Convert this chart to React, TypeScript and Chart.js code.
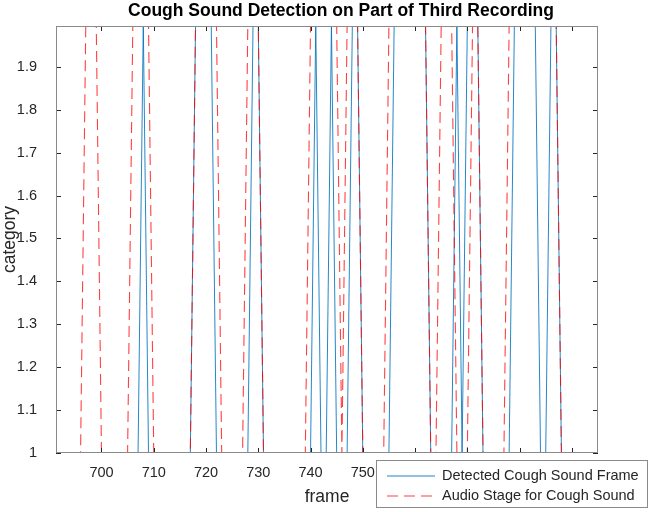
import { useEffect, useRef } from "react";
import { Chart, registerables } from "chart.js";

Chart.register(...registerables);

const titleText = "Cough Sound Detection on Part of Third Recording";
const xLabel = "frame";
const yLabel = "category";
const seriesNames = ["Detected Cough Sound Frame", "Audio Stage for Cough Sound"];
const seriesColors = ["rgba(0,114,189,0.85)", "rgba(255,0,0,0.75)"];

const xTickValues = [700, 710, 720, 730, 740, 750, 760, 770, 780, 790];
const yTickValues = [1, 1.1, 1.2, 1.3, 1.4, 1.5, 1.6, 1.7, 1.8, 1.9];
const xRange = [691.3, 795];
const yRange = [1, 1.995];

// vertices of the detected-frame line (frame, category)
const detectedFrames = [
  691, 707, 708, 709, 717, 718, 721, 722, 728, 729, 730, 731, 740, 741, 742, 743,
  744, 745, 747, 748, 749, 750, 755, 756, 762, 763, 767, 768, 769, 770, 772, 773,
  778, 779, 783, 784, 785, 786, 787, 788, 795,
];
const detectedValues = [
  1, 1, 2, 1, 1, 2, 2, 1, 1, 2, 2, 1, 1, 2, 1, 1,
  2, 1, 1, 2, 2, 1, 1, 2, 2, 1, 1, 2, 1, 2, 2, 1,
  1, 2, 2, 1, 1, 2, 2, 1, 1,
];

// vertices of the audio-stage line (frame, category)
const audioFrames = [
  691, 696, 697, 699, 700, 705, 706, 709, 710, 717, 718, 722, 723, 727, 728, 730,
  731, 739, 740, 745, 746, 747, 749, 750, 754, 755, 762, 763, 764, 765, 767, 768,
  770, 771, 772, 773, 777, 778, 787, 788, 795,
];
const audioValues = [
  1, 1, 2, 2, 1, 1, 2, 2, 1, 1, 2, 2, 1, 1, 2, 2,
  1, 1, 2, 2, 1, 2, 2, 1, 1, 2, 2, 1, 1, 2, 2, 1,
  1, 2, 2, 1, 1, 2, 2, 1, 1,
];

const FONT = '"Liberation Sans", Arial, Helvetica, sans-serif';

const toPoints = (xs: number[], ys: number[]) => xs.map((x, i) => ({ x, y: ys[i] }));

const matlabPlugin = {
  id: "matlabDecor",
  afterDraw(chart: any) {
    const { ctx, chartArea: a, scales } = chart;
    const x = scales.x;
    const y = scales.y;
    ctx.save();
    // tick marks (inward, all four sides)
    ctx.strokeStyle = "#262626";
    ctx.lineWidth = 1;
    ctx.beginPath();
    for (const v of xTickValues) {
      const px = Math.round(x.getPixelForValue(v)) + 0.5;
      ctx.moveTo(px, a.bottom);
      ctx.lineTo(px, a.bottom - 5);
      ctx.moveTo(px, a.top);
      ctx.lineTo(px, a.top + 5);
    }
    for (const v of yTickValues) {
      const py = Math.round(y.getPixelForValue(v)) + 0.5;
      ctx.moveTo(a.left, py);
      ctx.lineTo(a.left + 5, py);
      ctx.moveTo(a.right, py);
      ctx.lineTo(a.right - 5, py);
    }
    ctx.stroke();
    // axes box
    ctx.strokeStyle = "#8a8a8a";
    ctx.strokeRect(Math.round(a.left) + 0.5, Math.round(a.top) + 0.5, Math.round(a.width) - 1, Math.round(a.height) - 1);

    // title
    ctx.fillStyle = "#000000";
    ctx.font = `bold 17.5px ${FONT}`;
    ctx.textAlign = "center";
    ctx.textBaseline = "middle";
    ctx.fillText(titleText, 341, 11);

    // legend
    const lx = 376.5, ly = 460.5, lw = 271, lh = 47;
    ctx.fillStyle = "#ffffff";
    ctx.fillRect(lx, ly, lw, lh);
    ctx.strokeStyle = "#8a8a8a";
    ctx.lineWidth = 1;
    ctx.strokeRect(lx, ly, lw, lh);
    const rows = [476, 496];
    ctx.font = `14.5px ${FONT}`;
    ctx.textAlign = "left";
    ctx.textBaseline = "middle";
    seriesNames.forEach((name, i) => {
      ctx.save();
      ctx.strokeStyle = seriesColors[i];
      ctx.lineWidth = 1.2;
      if (i === 1) ctx.setLineDash([11, 6]);
      ctx.beginPath();
      ctx.moveTo(387, rows[i]);
      ctx.lineTo(435, rows[i]);
      ctx.stroke();
      ctx.restore();
      ctx.fillStyle = "#262626";
      ctx.fillText(name, 442, rows[i]);
    });
    ctx.restore();
  },
};

export default function App() {
  const canvasRef = useRef<HTMLCanvasElement | null>(null);

  useEffect(() => {
    if (!canvasRef.current) return;
    const chart = new Chart(canvasRef.current, {
      type: "scatter",
      data: {
        datasets: [
          {
            label: seriesNames[0],
            data: toPoints(detectedFrames, detectedValues),
            showLine: true,
            borderColor: seriesColors[0],
            backgroundColor: seriesColors[0],
            borderWidth: 1,
            pointRadius: 0,
            tension: 0,
            clip: 0,
            order: 2,
          },
          {
            label: seriesNames[1],
            data: toPoints(audioFrames, audioValues),
            showLine: true,
            borderColor: seriesColors[1],
            backgroundColor: seriesColors[1],
            borderWidth: 1.1,
            borderDash: [11, 6],
            pointRadius: 0,
            tension: 0,
            clip: 0,
            order: 1,
          },
        ],
      },
      options: {
        animation: false,
        responsive: false,
        devicePixelRatio: 1,
        layout: { padding: { top: 26, right: 55, left: 0, bottom: 0 } },
        plugins: {
          legend: { display: false },
          title: { display: false },
          tooltip: { enabled: false },
        },
        scales: {
          x: {
            type: "linear",
            min: xRange[0],
            max: xRange[1],
            grid: { display: false },
            border: { display: false },
            afterBuildTicks: (s: any) => {
              s.ticks = xTickValues.map((v) => ({ value: v }));
            },
            afterFit: (s: any) => {
              s.height = 59;
            },
            ticks: {
              color: "#262626",
              font: { family: FONT, size: 14.5 },
              padding: 3,
              maxRotation: 0,
              autoSkip: false,
              callback: (v: any) => String(v),
            },
            title: {
              display: true,
              text: xLabel,
              color: "#262626",
              font: { family: FONT, size: 17.5 },
              padding: { top: 0, bottom: 4 },
            },
          },
          y: {
            type: "linear",
            min: yRange[0],
            max: yRange[1],
            grid: { display: false },
            border: { display: false },
            afterBuildTicks: (s: any) => {
              s.ticks = yTickValues.map((v) => ({ value: v }));
            },
            afterFit: (s: any) => {
              s.width = 56;
            },
            ticks: {
              color: "#262626",
              font: { family: FONT, size: 14.5 },
              padding: 11,
              autoSkip: false,
              callback: (v: any) => String(v),
            },
            title: {
              display: true,
              text: yLabel,
              color: "#262626",
              font: { family: FONT, size: 17.5 },
              padding: { top: 0, bottom: 0 },
            },
          },
        },
      },
      plugins: [matlabPlugin],
    });
    return () => chart.destroy();
  }, []);

  return (
    <div style={{ position: "fixed", left: 0, top: 0, width: 653, height: 512, background: "#ffffff" }}>
      <canvas ref={canvasRef} width={653} height={512} style={{ display: "block", width: 653, height: 512 }} />
    </div>
  );
}
